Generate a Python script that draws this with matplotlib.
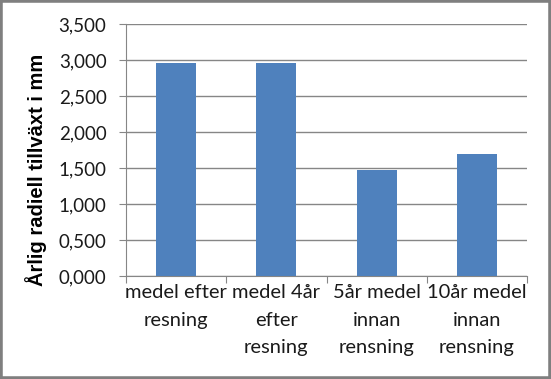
import matplotlib.pyplot as plt
from matplotlib.patches import Rectangle
from matplotlib.ticker import FuncFormatter, FixedLocator

# data
categories = ["medel efter\nresning", "medel 4år\nefter\nresning",
              "5år medel\ninnan\nrensning", "10år medel\ninnan\nrensning"]
values = [2.958, 2.958, 1.472, 1.694]
yticks = [0, 0.5, 1.0, 1.5, 2.0, 2.5, 3.0, 3.5]

blue = "#4f81bd"
gray = "#868686"

fig = plt.figure(figsize=(5.51, 3.79), dpi=100)
ax = fig.add_axes([126 / 551, 1 - 276 / 379, 401 / 551, 252 / 379])

x = list(range(len(categories)))
ax.bar(x, values, width=0.4, color=blue, zorder=3)

ax.set_xlim(-0.5, len(categories) - 0.5)
ax.set_ylim(0, 3.5)
ax.set_yticks(yticks)
ax.yaxis.set_major_formatter(FuncFormatter(lambda v, p: f"{v:.3f}".replace(".", ",")))
ax.grid(axis="y", color=gray, linewidth=1, zorder=0)

# category labels centered, ticks at boundaries
ax.xaxis.set_major_locator(FixedLocator([i - 0.5 for i in range(len(categories) + 1)]))
ax.xaxis.set_major_formatter(FuncFormatter(lambda v, p: ""))
ax.xaxis.set_minor_locator(FixedLocator(x))
ax.set_xticklabels(categories, minor=True, family="Lato", fontsize=14.5,
                   linespacing=1.75, va="top", color="#1a1a1a")
ax.tick_params(axis="x", which="minor", length=0, pad=6)
ax.tick_params(axis="x", which="major", length=5, color=gray, direction="out")
ax.tick_params(axis="y", length=5, color=gray, direction="out", pad=9)
for t in ax.get_yticklabels():
    t.set_family("Lato")
    t.set_fontsize(13.5)
    t.set_color("#1a1a1a")

for s in ["top", "right"]:
    ax.spines[s].set_visible(False)
for s in ["left", "bottom"]:
    ax.spines[s].set_color(gray)

ax.set_ylabel("Årlig radiell tillväxt i mm", family="Liberation Sans", fontweight="bold",
              fontsize=14.5, va="center")
ax.yaxis.set_label_coords((36 - 126) / 401, (276 - 170) / 252)

# chart frame
fig.patches.append(Rectangle((0, 0), 1, 1, transform=fig.transFigure, fill=False,
                             edgecolor="#7f7f7f", linewidth=4))

fig.savefig("out.png", dpi=100)
